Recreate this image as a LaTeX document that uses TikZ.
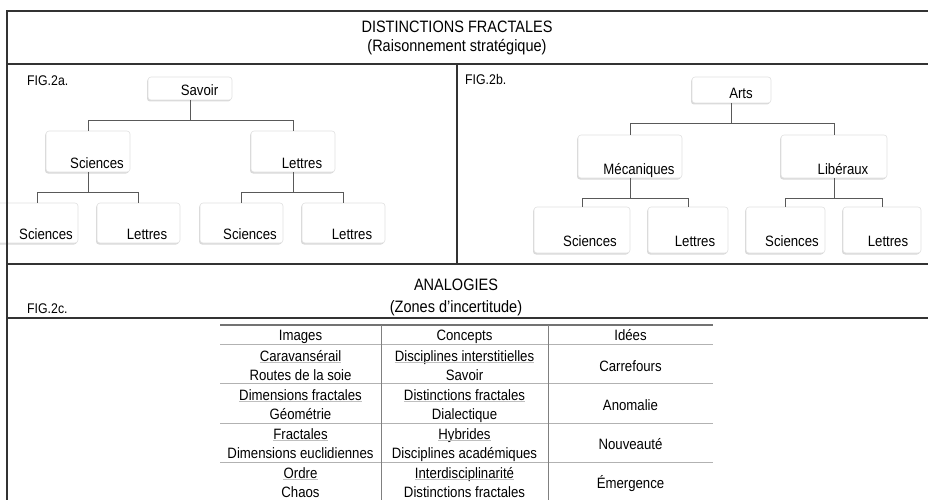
\documentclass[tikz,border=0pt]{standalone}
\usepackage{fontspec}
\setmainfont{Liberation Sans}[FakeStretch=0.88]
\usetikzlibrary{shadows}
\newcommand\tfont{\fontsize{15}{18}\selectfont}
\newcommand\tb[2][60pt]{\makebox[#1][c]{#2}}
\tikzstyle{boxw}=[draw=black!12,fill=white,rounded corners=3pt,line width=0.6pt,align=right,inner xsep=3pt,inner ysep=1pt,text depth=3pt,font=\tfont,text=black,drop shadow={shadow xshift=-1pt,shadow yshift=-1.5pt,opacity=.3}]
\tikzstyle{cell}=[inner sep=0pt,anchor=base,font=\tfont,text=black]
\tikzstyle{figlab}=[inner sep=0pt,anchor=base west,font=\fontsize{14}{17}\selectfont,text=black]
\tikzstyle{titlet}=[inner sep=0pt,anchor=base,font=\fontsize{16.5}{19}\selectfont,text=black]
\tikzstyle{link}=[draw=black!65,line width=0.9pt]
\tikzstyle{frameline}=[draw=black!80,line width=1.5pt]
\tikzstyle{rowline}=[draw=black!30,line width=1pt]
\tikzstyle{colline}=[draw=black!50,line width=1pt]
\tikzstyle{uline}=[draw=black!25,line width=0.7pt]

\begin{document}
\begin{tikzpicture}[x=1pt,y=-1pt]
    \useasboundingbox (0,0) rectangle (928,500);
    \node[titlet] (t1) at (457,33) {DISTINCTIONS FRACTALES};
    \node[titlet] (t2) at (457,52) {(Raisonnement stratégique)};
    \node[titlet] (t3) at (456,290) {ANALOGIES};
    \node[titlet] (t4) at (456,312) {(Zones d’incertitude)};
    \node[figlab] (fa) at (27,86) {FIG.2a.};
    \node[figlab] (fb) at (465,85) {FIG.2b.};
    \node[figlab] (fc) at (27,313) {FIG.2c.};

    \node[boxw,text width=78pt,text height=18pt] (sv) at (190,88.5) {\tb[59pt]{Savoir}};
    \node[boxw,text width=78pt,text height=36pt] (sa) at (88,151.5) {\tb{Sciences}};
    \node[boxw,text width=78pt,text height=36pt] (le) at (293,151.5) {\tb{Lettres}};
    \node[boxw,text width=76pt,text height=35pt] (sa1) at (37,223) {\tb[58pt]{Sciences}};
    \node[boxw,text width=77pt,text height=35pt] (le1) at (138.5,223) {\tb{Lettres}};
    \node[boxw,text width=77pt,text height=35pt] (sa2) at (241.5,223) {\tb{Sciences}};
    \node[boxw,text width=77pt,text height=35pt] (le2) at (343.5,223) {\tb{Lettres}};

    \node[boxw,text width=73pt,text height=21pt] (ar) at (731.5,90) {\tb[54pt]{Arts}};
    \node[boxw,text width=98pt,text height=38pt] (me) at (630,156.5) {\tb[80pt]{Mécaniques}};
    \node[boxw,text width=100pt,text height=38pt] (li) at (834,156.5) {\tb[82pt]{Libéraux}};
    \node[boxw,text width=90pt,text height=38pt,text depth=6pt] (sb1) at (582,230) {\tb[74pt]{Sciences}};
    \node[boxw,text width=74pt,text height=38pt,text depth=6pt] (lb1) at (688,230) {\tb{Lettres}};
    \node[boxw,text width=73pt,text height=38pt,text depth=6pt] (sb2) at (785.5,230) {\tb{Sciences}};
    \node[boxw,text width=72pt,text height=38pt,text depth=6pt] (lb2) at (882,230) {\tb{Lettres}};

    \foreach \from/\to in {sv/sa,sv/le,sa/sa1,sa/le1,le/sa2,le/le2,ar/me,ar/li,me/sb1,me/lb1,li/sb2,li/lb2}
    \draw[link] (\from.south) -- ++(0,20) -| (\to.north);

    \node[cell] (hi) at (300.5,340.5) {Images};
    \node[cell] (hc) at (464.5,340.5) {Concepts};
    \node[cell] (hd) at (630.5,340.5) {Idées};
    \foreach \r/\ia/\ib/\ca/\cb/\id in {1/Caravansérail/Routes de la soie/Disciplines interstitielles/Savoir/Carrefours,%
        2/Dimensions fractales/Géométrie/Distinctions fractales/Dialectique/Anomalie,%
        3/Fractales/Dimensions euclidiennes/Hybrides/Disciplines académiques/Nouveauté,%
        4/Ordre/Chaos/Interdisciplinarité/Distinctions fractales/Émergence} {
        \node[cell] (ia\r) at (300.5,{322+39*\r}) {\ia};
        \node[cell] (ib\r) at (300.5,{341.5+39*\r}) {\ib};
        \node[cell] (ca\r) at (464.5,{322+39*\r}) {\ca};
        \node[cell] (cb\r) at (464.5,{341.5+39*\r}) {\cb};
        \node[cell] (id\r) at (630.5,{332+39*\r}) {\id};
        \draw[uline] ([yshift=-1pt]ia\r.base west) -- ([yshift=-1pt]ia\r.base east);
        \draw[uline] ([yshift=-1pt]ca\r.base west) -- ([yshift=-1pt]ca\r.base east);
    }
    \draw[colline,draw=black!55,line width=1.3pt] (220,325) -- (713,325);
    \foreach \y in {344,383.5,423,462}
    \draw[rowline] (220,\y) -- (713,\y);
    \draw[colline] (381,325) -- (381,500);
    \draw[colline] (548,325) -- (548,500);

    \draw[frameline] (928,11) -- (7,11) -- (7,500);
    \draw[frameline] (7,64) -- (928,64);
    \draw[frameline] (457,64) -- (457,264);
    \draw[frameline] (7,264) -- (928,264);
    \draw[frameline] (7,318) -- (928,318);
\end{tikzpicture}
\end{document}
